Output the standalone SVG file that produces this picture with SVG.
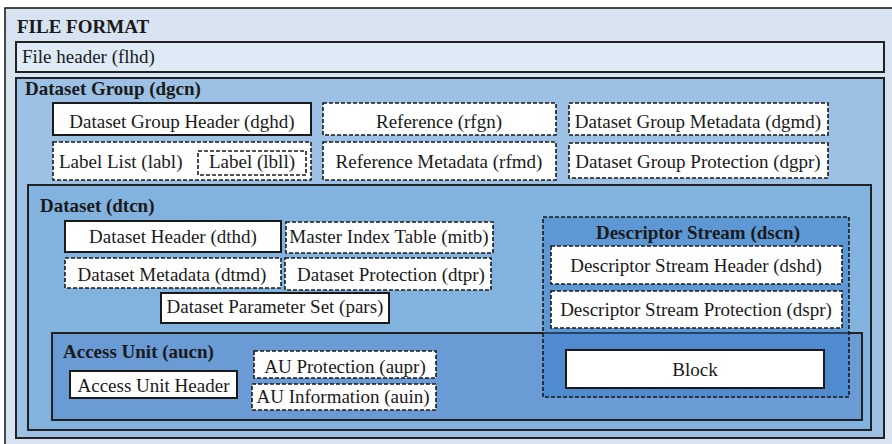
<svg xmlns="http://www.w3.org/2000/svg" width="892" height="444" viewBox="0 0 892 444">
<style>
text{font-family:"Liberation Serif","Times New Roman",serif;font-size:19px;fill:#1a1a1a}
.b{font-weight:bold}
.m{text-anchor:middle}
.frame{stroke:#222;stroke-width:2}
.box{fill:#fff;stroke:#1a1a1a;stroke-width:2}
.dash{fill:#fff;stroke:#1a1a1a;stroke-width:1.6;stroke-dasharray:4 2}
</style>
<g id="file-format">
<rect x="5" y="8" width="900" height="450" fill="#d7e3f0" stroke="#111" stroke-width="1.5"/>
<text class="b" x="17" y="33">FILE FORMAT</text>
</g>
<g id="flhd">
<rect class="frame" x="16" y="42" width="868" height="30" fill="#deeaf6"/>
<text x="22" y="63">File header (flhd)</text>
</g>
<g id="dgcn">
<rect class="frame" x="16" y="78" width="868" height="360" fill="#9dc1e4"/>
<text class="b" x="25" y="95">Dataset Group (dgcn)</text>
</g>
<g id="dghd"><rect class="box" x="53" y="103" width="258" height="32"/><text class="m" x="182" y="128">Dataset Group Header (dghd)</text></g>
<g id="rfgn"><rect class="dash" x="323" y="103" width="233" height="32"/><text class="m" x="439" y="128">Reference (rfgn)</text></g>
<g id="dgmd"><rect class="dash" x="569" y="103" width="259" height="32"/><text class="m" x="698" y="128">Dataset Group Metadata (dgmd)</text></g>
<g id="labl"><rect class="dash" x="53" y="142" width="258" height="38"/><text x="59" y="168">Label List (labl)</text></g>
<g id="lbll"><rect class="dash" x="198" y="151" width="108" height="24"/><text x="209" y="168">Label (lbll)</text></g>
<g id="rfmd"><rect class="dash" x="323" y="142" width="233" height="38"/><text class="m" x="439" y="168">Reference Metadata (rfmd)</text></g>
<g id="dgpr"><rect class="dash" x="569" y="143" width="259" height="35"/><text class="m" x="698" y="168">Dataset Group Protection (dgpr)</text></g>
<g id="dtcn">
<rect class="frame" x="28" y="185" width="843" height="245" fill="#82b2de"/>
<text class="b" x="40" y="212">Dataset (dtcn)</text>
</g>
<g id="dthd"><rect class="box" x="65" y="221" width="216" height="31"/><text class="m" x="173" y="243">Dataset Header (dthd)</text></g>
<g id="mitb"><rect class="dash" x="286" y="222" width="207" height="31"/><text class="m" x="389" y="243">Master Index Table (mitb)</text></g>
<g id="dtmd"><rect class="dash" x="65" y="258" width="216" height="30"/><text class="m" x="172" y="281">Dataset Metadata (dtmd)</text></g>
<g id="dtpr"><rect class="dash" x="285" y="258" width="206" height="32"/><text class="m" x="391" y="281">Dataset Protection (dtpr)</text></g>
<g id="pars"><rect class="box" x="161" y="293" width="228" height="30"/><text class="m" x="275" y="313">Dataset Parameter Set (pars)</text></g>
<g id="aucn">
<rect class="frame" x="52" y="333" width="810" height="87" fill="#6a9bd5"/>
<text class="b" x="63" y="358">Access Unit (aucn)</text>
</g>
<g id="auhd"><rect class="box" x="70" y="371" width="167" height="27"/><text class="m" x="153.5" y="392">Access Unit Header</text></g>
<g id="aupr"><rect class="dash" x="254" y="351" width="182" height="27"/><text class="m" x="345" y="373">AU Protection (aupr)</text></g>
<g id="auin"><rect class="dash" x="252" y="384" width="184" height="26"/><text class="m" x="343" y="403">AU Information (auin)</text></g>
<g id="dscn">
<rect x="543" y="217" width="306" height="180" fill="#2a74c6" fill-opacity="0.42" stroke="#1a1a1a" stroke-width="1.6" stroke-dasharray="4 2"/>
<text class="b m" x="698" y="239">Descriptor Stream (dscn)</text>
</g>
<g id="dshd"><rect class="dash" x="551" y="246" width="291" height="38"/><text class="m" x="696" y="272">Descriptor Stream Header (dshd)</text></g>
<g id="dspr"><rect class="dash" x="551" y="291" width="291" height="37"/><text class="m" x="696" y="316">Descriptor Stream Protection (dspr)</text></g>
<g id="block"><rect class="box" x="566" y="350" width="258" height="38"/><text class="m" x="695" y="376">Block</text></g>
<g id="connectors"/>
</svg>
